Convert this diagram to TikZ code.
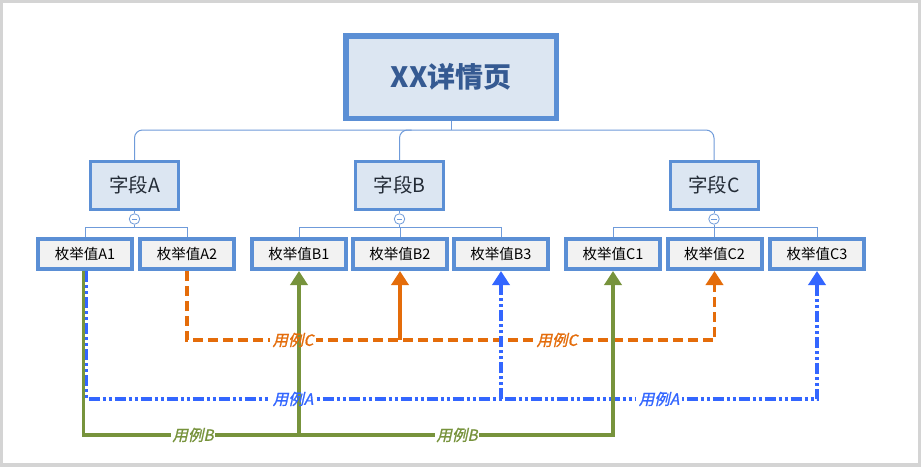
\documentclass[tikz,border=0pt]{standalone}
\usepackage{fontspec}
\setmainfont{Noto Sans CJK SC}
\newfontfamily\itfont{Noto Sans CJK SC}[FakeSlant=0.22,FakeBold=1.2]
\usetikzlibrary{arrows.meta}
\definecolor{bdr}{HTML}{5B8FD5}
\definecolor{treec}{HTML}{6F9BDA}
\definecolor{rootfill}{HTML}{DCE6F2}
\definecolor{roottext}{HTML}{355A92}
\definecolor{fieldtext}{HTML}{232B36}
\definecolor{valfill}{HTML}{F2F2F2}
\definecolor{orangec}{HTML}{E46C0A}
\definecolor{bluec}{HTML}{3366FF}
\definecolor{greenc}{HTML}{77933C}
\definecolor{framec}{HTML}{D4D4D4}
\begin{document}
\begin{tikzpicture}[x=1pt,y=-1pt,
  rootbox/.style={draw=bdr, line width=5.5pt, fill=rootfill, minimum width=210.5pt, minimum height=82.5pt, inner sep=0pt, text=roottext, font=\fontsize{28}{32}\selectfont\bfseries},
  fieldbox/.style={draw=bdr, line width=3pt, fill=rootfill, minimum width=88pt, minimum height=48pt, inner sep=0pt, text=fieldtext, font=\fontsize{19.5}{23}\selectfont},
  valbox/.style={draw=bdr, line width=4pt, fill=valfill, minimum width=94pt, minimum height=30pt, inner sep=0pt, text=black, font=\fontsize{14.5}{18}\selectfont},
  treeline/.style={draw=treec, line width=1pt},
  collapse/.style={circle, draw=treec, fill=white, line width=0.8pt, minimum size=10.5pt, inner sep=0pt,
    path picture={\draw[treec, line width=0.9pt] ([xshift=-2.6pt]path picture bounding box.center) -- ([xshift=2.6pt]path picture bounding box.center);}},
  tip/.style={-{Triangle[length=14pt,width=17pt]}},
  conn/.style={line width=3.5pt, line join=miter},
  orangedash/.style={conn, draw=orangec, dash pattern=on 10pt off 5pt},
  orangesolid/.style={conn, draw=orangec},
  bluedash/.style={conn, draw=bluec, dash pattern=on 11pt off 3pt on 3pt off 3pt on 3pt off 3pt},
  greenline/.style={conn, draw=greenc},
  gap/.style={fill=white, minimum width=46pt, minimum height=15pt, inner sep=0pt},
  lbl/.style={inner sep=1pt, font=\itfont\fontsize{15.5}{18}\selectfont},
]
\useasboundingbox (0,0) rectangle (921,467);
\fill[framec] (0,0) rectangle (921,467);
\fill[white] (2.5,2.5) rectangle (918,463);

% nodes
\node[rootbox] (root) at (451,77) {XX详情页};
\node[fieldbox] (fa) at (134.5,185.5) {字段A};
\node[fieldbox] (fb) at (399.5,185.5) {字段B};
\node[fieldbox] (fc) at (714,185.5) {字段C};

\node[valbox] (a1) at (85,254) {枚举值A1};
\node[valbox] (a2) at (187,254) {枚举值A2};
\node[valbox] (b1) at (299,254) {枚举值B1};
\node[valbox] (b2) at (400,254) {枚举值B2};
\node[valbox] (b3) at (501,254) {枚举值B3};
\node[valbox] (c1) at (613,254) {枚举值C1};
\node[valbox] (c2) at (714.5,254) {枚举值C2};
\node[valbox] (c3) at (817,254) {枚举值C3};

\node[collapse] (ca) at (134.5,219) {};
\node[collapse] (cb) at (399.5,219) {};
\node[collapse] (cc) at (714,219) {};

% tree lines
\coordinate (hub) at (451,130);
\coordinate (bar) at (0,227);
\draw[treeline] (root.south) -- (hub);
\draw[treeline, rounded corners=8pt] (fa.north) -- (fa.north |- hub) -- (fc.north |- hub) -- (fc.north);
\draw[treeline, rounded corners=8pt] (fb.north) -- (fb.north |- hub) -- ([xshift=12pt]fb.north |- hub);
\foreach \f/\c in {fa/ca, fb/cb, fc/cc} {
  \draw[treeline] (\f.south) -- (\c.north);
  \draw[treeline] (\c.south) -- (\c.south |- bar);
}
\draw[treeline] (a1.north) -- (a1.north |- bar) -- (a2.north |- bar) -- (a2.north);
\draw[treeline] (b1.north) -- (b1.north |- bar) -- (b3.north |- bar) -- (b3.north);
\draw[treeline] (b2.north) -- (b2.north |- bar);
\draw[treeline] (c1.north) -- (c1.north |- bar) -- (c3.north |- bar) -- (c3.north);
\draw[treeline] (c2.north) -- (c2.north |- bar);

% connectors
\coordinate (yC) at (0,340);
\coordinate (yA) at (0,399);
\coordinate (yB) at (0,435);

% orange (用例C)
\draw[orangedash, tip] (a2.south) -- (a2.south |- yC) -- (c2.south |- yC) -- (c2.south);
\draw[orangesolid, tip] (b2.south |- yC) -- (b2.south);

% blue (用例A)
\draw[bluedash, tip] ([xshift=1.5pt]a1.south) -- ([xshift=1.5pt]a1.south |- yA) -- (c3.south |- yA) -- (c3.south);
\draw[bluedash, tip] (b3.south |- yA) -- (b3.south);

% gaps under orange and blue labels
\node[gap] (gc1) at (293,340) {};
\node[gap] (gc2) at (557,340) {};
\node[gap] (ga1) at (293,399) {};
\node[gap] (ga2) at (659,399) {};

% green (用例B)
\draw[greenline, tip] ([xshift=-1.5pt]a1.south) -- ([xshift=-1.5pt]a1.south |- yB) -- (c1.south |- yB) -- (c1.south);
\draw[greenline, tip] (b1.south |- yB) -- (b1.south);

% labels
\node[lbl, text=orangec] (tc1) at (gc1) {用例C};
\node[lbl, text=orangec] (tc2) at (gc2) {用例C};
\node[lbl, text=bluec] (ta1) at (ga1) {用例A};
\node[lbl, text=bluec] (ta2) at (ga2) {用例A};
\node[lbl, text=greenc, fill=white] (tb1) at (193,435) {用例B};
\node[lbl, text=greenc, fill=white] (tb2) at (457,435) {用例B};
\end{tikzpicture}
\end{document}
